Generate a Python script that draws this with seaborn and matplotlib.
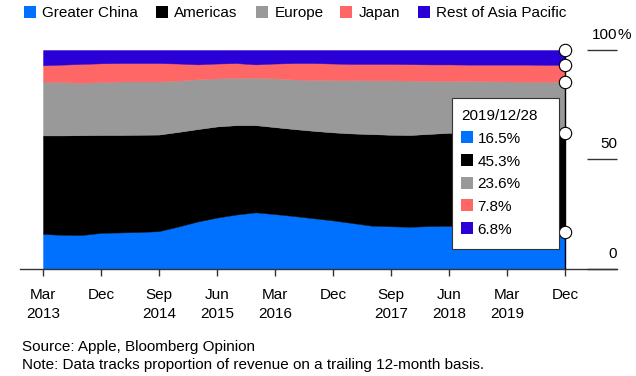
import numpy as np
import pandas as pd
import matplotlib
matplotlib.use("Agg")
import matplotlib.pyplot as plt
from matplotlib.patches import Rectangle
import seaborn as sns

# ---------------- data ----------------
regions = ["Greater China", "Americas", "Europe", "Japan", "Rest of Asia Pacific"]
colors = ["#0070ff", "#000000", "#999999", "#ff6666", "#2a00d6"]

quarters = [str(p) for p in pd.period_range("2013Q1", "2019Q4", freq="Q")]

greater_china = [15.8, 15.4, 15.3, 16.3, 16.5, 16.7, 17.1, 19.2, 21.5, 23.3,
                 24.7, 25.7, 24.9, 24.0, 23.0, 22.0, 20.8, 19.6, 19.3, 19.1,
                 19.4, 19.5, 19.2, 18.5, 17.8, 17.2, 16.9, 16.5]
americas = [45.1, 45.5, 45.7, 44.8, 44.6, 44.5, 44.2, 43.3, 42.3, 41.7,
            40.9, 39.9, 39.8, 39.8, 40.0, 40.3, 41.0, 41.9, 41.9, 42.0,
            42.2, 42.6, 42.8, 43.4, 44.0, 44.5, 44.9, 45.3]
europe = [24.7, 24.4, 24.0, 24.2, 24.5, 24.4, 24.3, 23.5, 22.8, 22.0,
          21.7, 21.7, 22.3, 22.7, 23.3, 23.9, 24.4, 24.6, 24.9, 24.9,
          24.3, 23.8, 23.8, 23.8, 23.8, 23.8, 23.7, 23.6]
japan = [7.4, 8.0, 8.6, 8.6, 8.4, 8.4, 8.4, 7.8, 6.8, 6.8,
         6.7, 6.1, 6.8, 7.5, 7.7, 7.6, 7.4, 7.5, 7.5, 7.5,
         7.5, 7.5, 7.5, 7.6, 7.7, 7.8, 7.7, 7.8]
rest_apac = [7.0, 6.7, 6.4, 6.1, 6.0, 6.0, 6.0, 6.2, 6.6, 6.2,
             6.0, 6.6, 6.2, 6.0, 6.0, 6.2, 6.4, 6.4, 6.4, 6.5,
             6.6, 6.6, 6.7, 6.7, 6.7, 6.7, 6.8, 6.8]

tick_positions = [0, 3, 6, 9, 12, 15, 18, 21, 24, 27]
tick_labels = ["Mar\n2013", "Dec", "Sep\n2014", "Jun\n2015", "Mar\n2016",
               "Dec", "Sep\n2017", "Jun\n2018", "Mar\n2019", "Dec"]
y_ticks = [0, 50, 100]
y_tick_labels = ["0", "50", "100"]
last_date_label = "2019/12/28"
source_text = "Source: Apple, Bloomberg Opinion"
note_text = "Note: Data tracks proportion of revenue on a trailing 12-month basis."

# ---------------- style ----------------
sns.set_theme(style="white")
plt.rcParams["font.family"] = ["Liberation Sans", "DejaVu Sans"]
plt.rcParams["font.size"] = 11
TXT = "#000000"
AX = "#333333"

W, H = 636, 376
fig = plt.figure(figsize=(W / 100, H / 100), dpi=100)

def fx(px):
    return px / W

def fy(py):
    return 1 - py / H

# axes: pixel x 20..617, y 50..268.5
x0_px, x1_px = 20, 617
top_px, bot_px = 50, 268.5
ax = fig.add_axes([fx(x0_px), fy(bot_px), fx(x1_px) - fx(x0_px), (bot_px - top_px) / H])

n = len(quarters)
xs = np.arange(n)
px_per_q = (565 - 43) / (n - 1)
ax.set_xlim(-(43 - x0_px) / px_per_q, (n - 1) + (x1_px - 565) / px_per_q)
ax.set_ylim(0, 100)

df = pd.DataFrame({"quarter": quarters, "x": xs,
                   regions[0]: greater_china, regions[1]: americas,
                   regions[2]: europe, regions[3]: japan, regions[4]: rest_apac})

ax.stackplot(df["x"], *[df[r] for r in regions], colors=colors,
             linewidth=0.3, edgecolor="face", zorder=1)

# hover line and markers at last point
ax.vlines(xs[-1], 0, 100, color="#000000", lw=1.0, zorder=3)
cum_last = np.cumsum([df[r].iloc[-1] for r in regions])
sns.scatterplot(x=[xs[-1]] * len(regions), y=cum_last, ax=ax, s=80,
                color="white", edgecolor="#000000", linewidth=0.8, zorder=5,
                clip_on=False, legend=False)

# spines & ticks
for s in ["top", "left", "right"]:
    ax.spines[s].set_visible(False)
ax.spines["bottom"].set_color(AX)
ax.spines["bottom"].set_linewidth(1.0)
ax.set_xticks(tick_positions)
ax.set_xticklabels(tick_labels, color=TXT, fontsize=11, linespacing=1.5)
ax.tick_params(axis="x", bottom=True, length=5, width=1, color=AX, pad=9)
ax.set_yticks([])
ax.set_xlabel("")
ax.set_ylabel("")

# right-hand y scale
unit_per_px = 100 / (bot_px - top_px)
xr_px0, xr_px1 = 587, 617
xr0 = (xr_px0 - 43) / px_per_q
xr1 = (xr_px1 - 43) / px_per_q
for v, lab in zip(y_ticks, y_tick_labels):
    ax.hlines(v, xr0, xr1, color=AX, lw=1.0, clip_on=False, zorder=2)
    ax.text(xr1, v + 11 * unit_per_px, lab, ha="right", va="baseline",
            fontsize=11, color=TXT, clip_on=False)
    if v == 100:
        ax.text(xr1, v + 11 * unit_per_px, "%", ha="left", va="baseline",
                fontsize=11, color=TXT, clip_on=False)

# legend (top)
leg_sq_x = [24, 155.5, 256, 340, 417.5]
for r, c, sx in zip(regions, colors, leg_sq_x):
    fig.patches.append(Rectangle((fx(sx), fy(17.5)), 12 / W, 11.5 / H,
                                 transform=fig.transFigure, facecolor=c,
                                 edgecolor="none"))
    fig.text(fx(sx + 18.5), fy(17.3), r, ha="left", va="baseline",
             fontsize=11, color=TXT)

# tooltip box
bx0, by0, bx1, by1 = 452.3, 97.5, 559.3, 249.3
fig.patches.append(Rectangle((fx(bx0), fy(by1)), (bx1 - bx0) / W, (by1 - by0) / H,
                             transform=fig.transFigure, facecolor="white",
                             edgecolor="#333333", linewidth=0.8, zorder=10))
fig.text(fx(461.7), fy(120), last_date_label, ha="left", va="baseline",
         fontsize=11, color=TXT, zorder=11)
row_centers = [137.3, 159.9, 182.6, 205.4, 228.2]
for r, c, cy in zip(regions, colors, row_centers):
    val = df[r].iloc[-1]
    fig.patches.append(Rectangle((fx(461.2), fy(cy + 6)), 12 / W, 12 / H,
                                 transform=fig.transFigure, facecolor=c,
                                 edgecolor="none", zorder=11))
    fig.text(fx(477.7), fy(cy + 5.6), f"{val:.1f}%", ha="left", va="baseline",
             fontsize=11, color=TXT, zorder=11)

# footer
fig.text(fx(21.5), fy(350.7), source_text, ha="left", va="baseline",
         fontsize=11, color=TXT)
fig.text(fx(21.5), fy(368.5), note_text, ha="left", va="baseline",
         fontsize=11, color=TXT)

fig.savefig("out.png", dpi=100)
